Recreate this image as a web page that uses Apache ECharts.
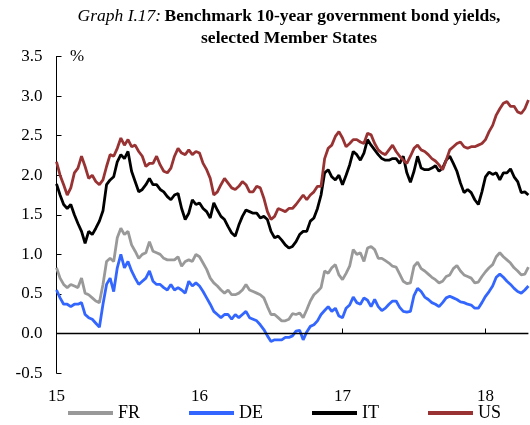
<!DOCTYPE html>
<html><head><meta charset="utf-8">
<script src="https://cdn.jsdelivr.net/npm/echarts@6/dist/echarts.min.js"></script>
<style>html,body{margin:0;padding:0;background:#fff}#c{width:530px;height:425px}</style>
</head><body><div id="c"></div>
<script>
// x positions: decimal years (15 = Jan 2015), sampled every 1/40 year
const startYear = 15;
const stepYears = 1 / 40;
const yearTicks = ['15', '16', '17', '18'];
const yTicks = [-0.5, 0, 0.5, 1, 1.5, 2, 2.5, 3, 3.5];

const FR = [0.83,0.70,0.62,0.58,0.62,0.60,0.58,0.70,0.51,0.49,0.45,0.41,0.39,0.62,0.91,0.95,0.91,1.21,1.33,1.25,1.29,1.12,1.04,0.95,1.00,1.02,1.16,1.04,1.02,1.00,0.95,0.93,
  0.93,0.93,0.97,0.85,0.91,0.93,0.91,1.00,0.97,0.89,0.81,0.70,0.64,0.60,0.55,0.51,0.55,0.49,0.49,0.51,0.55,0.62,0.55,0.53,0.51,0.49,0.45,0.34,0.24,0.24,0.20,0.16,0.16,0.18,
  0.25,0.24,0.26,0.20,0.30,0.41,0.49,0.53,0.58,0.79,0.76,0.83,0.87,0.74,0.68,0.76,0.85,1.06,1.00,1.02,0.91,1.08,1.10,1.06,0.95,0.95,0.92,0.89,0.85,0.84,0.75,0.66,
  0.63,0.64,0.85,0.90,0.82,0.79,0.75,0.71,0.68,0.64,0.66,0.72,0.74,0.82,0.86,0.79,0.74,0.72,0.70,0.64,0.65,0.72,0.78,0.83,0.87,0.97,1.02,0.97,0.93,0.89,0.83,0.79,0.74,0.75,0.84];
const DE = [0.55,0.45,0.37,0.37,0.34,0.37,0.37,0.39,0.24,0.20,0.18,0.13,0.08,0.37,0.62,0.70,0.53,0.83,1.00,0.83,0.91,0.79,0.70,0.62,0.66,0.70,0.79,0.66,0.62,0.62,0.58,0.55,
  0.62,0.55,0.58,0.55,0.51,0.66,0.60,0.64,0.60,0.53,0.45,0.37,0.28,0.24,0.20,0.24,0.24,0.18,0.24,0.20,0.24,0.28,0.20,0.18,0.16,0.11,0.05,-0.03,-0.10,-0.08,-0.08,-0.08,-0.05,-0.05,
  -0.03,0.03,0.04,-0.08,0.02,0.09,0.11,0.16,0.24,0.29,0.34,0.28,0.32,0.22,0.20,0.32,0.36,0.46,0.39,0.37,0.45,0.42,0.34,0.43,0.34,0.29,0.32,0.37,0.41,0.41,0.33,0.28,
  0.27,0.28,0.48,0.57,0.53,0.46,0.43,0.39,0.37,0.34,0.39,0.45,0.47,0.45,0.43,0.40,0.39,0.37,0.36,0.32,0.32,0.39,0.47,0.53,0.60,0.71,0.75,0.71,0.66,0.62,0.57,0.53,0.51,0.55,0.60];
const IT = [1.89,1.75,1.63,1.58,1.63,1.50,1.39,1.29,1.14,1.29,1.25,1.33,1.42,1.55,1.88,1.94,1.98,2.17,2.26,2.21,2.30,2.05,1.92,1.79,1.82,1.88,1.96,1.88,1.88,1.82,1.79,1.73,
  1.69,1.75,1.77,1.58,1.44,1.52,1.69,1.63,1.65,1.58,1.54,1.46,1.65,1.56,1.48,1.44,1.35,1.27,1.23,1.37,1.48,1.56,1.54,1.52,1.52,1.46,1.48,1.44,1.29,1.21,1.23,1.18,1.12,1.08,
  1.10,1.16,1.25,1.29,1.29,1.42,1.46,1.58,1.75,2.03,2.07,1.98,1.94,2.00,1.88,2.00,2.13,2.30,2.26,2.19,2.28,2.45,2.38,2.32,2.26,2.21,2.19,2.19,2.21,2.21,2.15,2.24,
  2.03,1.91,2.05,2.24,2.09,2.07,2.07,2.09,2.12,2.05,2.09,2.19,2.24,2.15,2.05,1.90,1.78,1.82,1.78,1.69,1.63,1.79,1.98,2.04,2.01,2.03,1.94,2.03,2.03,2.08,1.98,1.92,1.78,1.79,1.75];
const US = [2.17,2.00,1.88,1.75,1.84,2.03,2.09,2.24,2.11,1.96,2.00,1.92,1.88,1.94,2.11,2.26,2.24,2.34,2.47,2.38,2.45,2.36,2.38,2.30,2.24,2.11,2.15,2.15,2.24,2.13,2.05,2.03,
  2.09,2.24,2.34,2.28,2.26,2.32,2.26,2.30,2.28,2.15,2.07,1.96,1.75,1.79,1.88,1.96,1.90,1.84,1.82,1.86,1.92,1.88,1.79,1.79,1.86,1.84,1.71,1.54,1.44,1.48,1.58,1.56,1.54,1.58,
  1.58,1.63,1.69,1.75,1.69,1.75,1.79,1.86,1.86,2.21,2.34,2.38,2.49,2.55,2.47,2.36,2.40,2.45,2.45,2.42,2.40,2.53,2.51,2.40,2.32,2.28,2.26,2.32,2.38,2.30,2.24,2.19,
  2.15,2.24,2.34,2.38,2.32,2.30,2.26,2.21,2.18,2.13,2.07,2.19,2.32,2.36,2.40,2.42,2.36,2.34,2.36,2.36,2.38,2.40,2.45,2.55,2.63,2.76,2.84,2.91,2.93,2.87,2.87,2.80,2.78,2.84,2.95];

const seriesNames = ['FR', 'DE', 'IT', 'US'];
const seriesValues = [FR, DE, IT, US];
const colors = ['#999999', '#3366ff', '#000000', '#993333'];

const FONT = 'Liberation Serif';
const xMax = startYear + (FR.length - 1) * stepYears;
const toPoints = arr => arr.map((v, i) => [startYear + i * stepYears, v]);
const tickYears = yearTicks.map(t => Number(t));

const titleGraphics = [
  {type: 'text', x: 289, y: 16, style: {
    text: '{i|Graph I.17:} {b|Benchmark 10-year government bond yields,}',
    align: 'center', verticalAlign: 'middle',
    rich: {
      i: {fontFamily: FONT, fontStyle: 'italic', fontSize: 17.5, fill: '#000'},
      b: {fontFamily: FONT, fontWeight: 'bold', fontSize: 17.5, fill: '#000'}
    }}},
  {type: 'text', x: 289, y: 38, style: {
    text: 'selected Member States', align: 'center', verticalAlign: 'middle',
    fontFamily: FONT, fontWeight: 'bold', fontSize: 17.5, fill: '#000'}},
  {type: 'text', x: 70, y: 57, style: {
    text: '%', align: 'left', verticalAlign: 'middle',
    fontFamily: FONT, fontSize: 17, fill: '#000'}}
];

const chart = echarts.init(document.getElementById('c'), null, {renderer: 'canvas'});
chart.setOption({
  animation: false,
  backgroundColor: '#ffffff',
  textStyle: {fontFamily: FONT},
  graphic: titleGraphics,
  grid: {left: 56.5, top: 56.5, width: 471.9, height: 316.571, containLabel: false},
  legend: {
    data: seriesNames,
    left: 68, top: 404, padding: 0,
    icon: 'rect', itemWidth: 45, itemHeight: 4, itemGap: 49,
    textStyle: {fontFamily: FONT, fontSize: 18, color: '#000'}
  },
  xAxis: {
    type: 'value', min: startYear, max: xMax, interval: 1,
    axisLine: {show: false, onZero: false}, axisTick: {show: false}, splitLine: {show: false},
    axisLabel: {margin: 15, fontFamily: FONT, fontSize: 17, color: '#000', showMaxLabel: false,
      formatter: v => yearTicks[Math.round(v) - startYear] || ''}
  },
  yAxis: {
    type: 'value', min: yTicks[0], max: yTicks[yTicks.length - 1], interval: 0.5,
    axisLine: {show: true, onZero: false, lineStyle: {color: '#000', width: 1}},
    axisTick: {show: true, inside: true, length: 5, lineStyle: {color: '#000'}},
    splitLine: {show: false},
    axisLabel: {margin: 14, fontFamily: FONT, fontSize: 17, color: '#000', padding: [5, 0, 0, 0],
      formatter: v => v.toFixed(1)}
  },
  series: seriesNames.map((name, k) => ({
    name, type: 'line', showSymbol: false, symbol: 'none',
    data: toPoints(seriesValues[k]),
    color: colors[k],
    lineStyle: {color: colors[k], width: 2.8},
    itemStyle: {color: colors[k]}
  }))
});

// horizontal axis line at zero with small upward year ticks, positioned through the chart's scales
const crisp = v => Math.round(v - 0.5) + 0.5;
const pStart = chart.convertToPixel({gridIndex: 0}, [startYear, 0]);
const pEnd = chart.convertToPixel({gridIndex: 0}, [xMax, 0]);
const zeroY = crisp(pStart[1]);
const axisGraphics = [{
  type: 'line', z: 100, silent: true,
  shape: {x1: pStart[0], y1: zeroY, x2: pEnd[0], y2: zeroY},
  style: {stroke: '#000', lineWidth: 1.5}
}].concat(tickYears.slice(1).map(t => {
  const p = chart.convertToPixel({gridIndex: 0}, [t, 0]);
  const x = crisp(p[0]);
  return {type: 'line', z: 100, silent: true,
    shape: {x1: x, y1: zeroY, x2: x, y2: zeroY - 5},
    style: {stroke: '#000', lineWidth: 1}};
}));
chart.setOption({graphic: titleGraphics.concat(axisGraphics)});
</script></body></html>
